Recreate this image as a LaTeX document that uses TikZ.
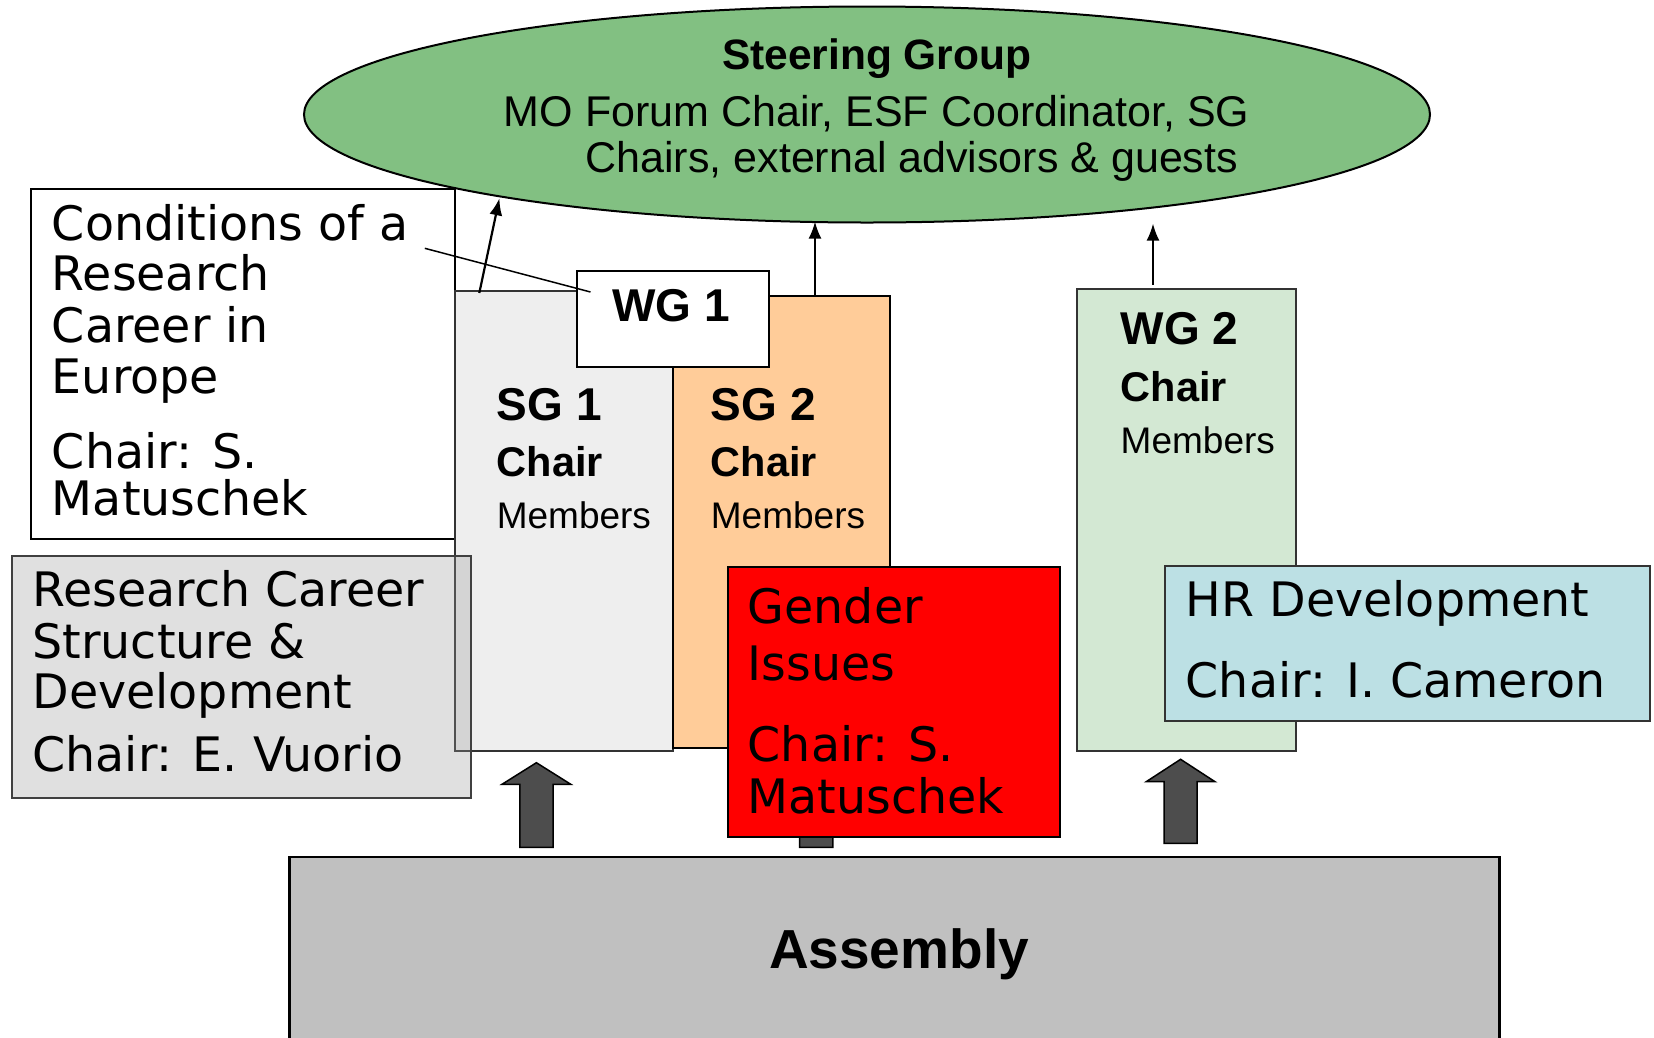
\documentclass[tikz,border=0pt]{standalone}
\usepackage{fontspec}
\setmainfont{DejaVu Sans}
\newfontfamily\arialf{Liberation Sans}
\usetikzlibrary{arrows.meta,calc,shapes.geometric}
\definecolor{sgGreen}{RGB}{130,192,130}
\definecolor{sgOneFill}{RGB}{238,238,238}
\definecolor{sgTwoFill}{RGB}{255,204,153}
\definecolor{wgTwoFill}{RGB}{211,232,211}
\definecolor{hrFill}{RGB}{188,224,228}
\definecolor{asmFill}{RGB}{192,192,192}
\definecolor{blockFill}{RGB}{77,77,77}
\newcommand\myblockarrow[4]{% center x, tip y, head base y, bottom y
  \draw[blockarrow] ({#1-16.6},#4) -- ({#1-16.6},#3) -- ({#1-34.4},#3) -- (#1,#2)
    -- ({#1+34.4},#3) -- ({#1+16.6},#3) -- ({#1+16.6},#4) -- cycle;}
\begin{document}
\begin{tikzpicture}[x=1pt,y=-1pt,
  box/.style={draw=black, line width=2pt, inner sep=0pt, anchor=north west, rectangle},
  vt/.style={inner sep=0pt, anchor=base west, font=\fontsize{47.5}{57}\selectfont},
  bt/.style={inner sep=0pt, anchor=base west, font=\arialf\bfseries\fontsize{46}{55}\selectfont},
  ct/.style={inner sep=0pt, anchor=base west, font=\arialf\bfseries\fontsize{41.5}{50}\selectfont},
  mt/.style={inner sep=0pt, anchor=base west, font=\arialf\fontsize{37}{44}\selectfont},
  et/.style={inner sep=0pt, anchor=base, font=\arialf\fontsize{43}{52}\selectfont},
  blockarrow/.style={draw=black, line width=1.5pt, fill=blockFill, line join=miter},
  thinarrow/.style={line width=2.2pt, -{Latex[length=17pt,width=13pt]}}
]
\useasboundingbox (0,0) rectangle (1654,1037);

% Conditions box
\node[box, fill=white, minimum width=423.1pt, minimum height=350pt] (cond) at (30.4,188.3) {};
\node[vt] (c1) at (51.7,240) {Conditions of a};
\node[vt] (c2) at (51.7,290) {Research};
\node[vt] (c3) at (51.7,342.7) {Career in};
\node[vt] (c4) at (51.7,393.3) {Europe};
\node[vt] (c5) at (51.7,468.3) {Chair: S.};
\node[vt] (c6) at (51.7,515) {Matuschek};

% SG 1 and SG 2
\node[box, draw=black!80, fill=sgOneFill, minimum width=218.3pt, minimum height=460pt] (sg1) at (453.6,290) {};
\node[box, fill=sgTwoFill, minimum width=217.1pt, minimum height=452pt] (sg2) at (671.9,295) {};
\node[bt] (s1a) at (496.6,420) {SG 1};
\node[ct] (s1b) at (496.6,476.7) {Chair};
\node[mt] (s1c) at (496.6,528.3) {Members};
\node[bt] (s2a) at (710.7,420) {SG 2};
\node[ct] (s2b) at (710.7,476.7) {Chair};
\node[mt] (s2c) at (710.7,528.3) {Members};

% WG 1
\node[box, fill=white, minimum width=192.2pt, minimum height=96pt] (wg1) at (575.8,270) {};
\node[bt] (w1a) at (612,321) {WG 1};

% Research Career Structure box (semi-transparent)
\node[box, draw=black!75, fill=black!40, fill opacity=0.3, minimum width=459pt, minimum height=241.7pt] (rcs) at (11,555) {};
\node[vt] (r1) at (32.3,606.7) {Research Career};
\node[vt] (r2) at (32.3,658.3) {Structure \&};
\node[vt] (r3) at (32.3,708.3) {Development};
\node[vt] (r4) at (32.3,771.7) {Chair: E. Vuorio};

% block arrows
\myblockarrow{536.4}{762.7}{784.3}{847.3}
\myblockarrow{816.2}{762.7}{784.3}{847.3}
\myblockarrow{1180.6}{759.3}{781.7}{843.3}

% Gender Issues
\node[box, fill=red, minimum width=332.2pt, minimum height=270.3pt] (gen) at (726.8,565.7) {};
\node[vt] (g1) at (747.6,623.3) {Gender};
\node[vt] (g2) at (747.6,680) {Issues};
\node[vt] (g3) at (747.6,761.7) {Chair: S.};
\node[vt] (g4) at (747.6,813.3) {Matuschek};

% WG 2
\node[box, draw=black!80, fill=wgTwoFill, minimum width=218.4pt, minimum height=462.5pt] (wg2) at (1076.2,287.5) {};
\node[bt] (w2a) at (1120.5,344.6) {WG 2};
\node[ct] (w2b) at (1120.5,401.8) {Chair};
\node[mt] (w2c) at (1120.5,453.6) {Members};

% HR Development
\node[box, draw=black!80, fill=hrFill, minimum width=484.6pt, minimum height=154.6pt] (hr) at (1164.4,565) {};
\node[vt] (h1) at (1185.6,616) {HR Development};
\node[vt] (h2) at (1185.6,697) {Chair: I. Cameron};

% Assembly
\node[box, line width=2.5pt, fill=asmFill, minimum width=1210pt, minimum height=200pt] (asm) at (288,855.7) {};
\node[inner sep=0pt, anchor=base, font=\arialf\bfseries\fontsize{55}{66}\selectfont] (asmt) at (899,968.3) {Assembly};

% Steering Group
\node[ellipse, draw=black, line width=2pt, fill=sgGreen, minimum width=1126pt, minimum height=216pt, inner sep=0pt] (sg) at (867,114.5) {};
\node[inner sep=0pt, anchor=base, font=\arialf\bfseries\fontsize{42.5}{51}\selectfont] (sgt) at (876.7,69.5) {Steering Group};
\node[et] (sgl1) at (876.7,126) {MO Forum Chair, ESF Coordinator, SG};
\node[et] (sgl2) at (911.8,172.5) {Chairs, external advisors \& guests};

% thin arrows
\draw[thinarrow] ([xshift=25.7pt,yshift=-3pt]sg1.north west) -- ($(sg.center)+(-367.6,83.8)$);
\coordinate (a2s) at ([xshift=143.1pt]sg2.north west);
\draw[thinarrow] (a2s) -- ($(a2s |- sg.south)+(0,-2)$);
\coordinate (a3s) at ([xshift=76.8pt,yshift=3pt]wg2.north west);
\draw[thinarrow] (a3s) -- (a3s |- sg.south);

% pointer line
\coordinate (ptr) at (424.8,248.3);
\draw[line width=1.5pt] (ptr) -- ([xshift=14.7pt,yshift=-22pt]wg1.north west);
\end{tikzpicture}
\end{document}
